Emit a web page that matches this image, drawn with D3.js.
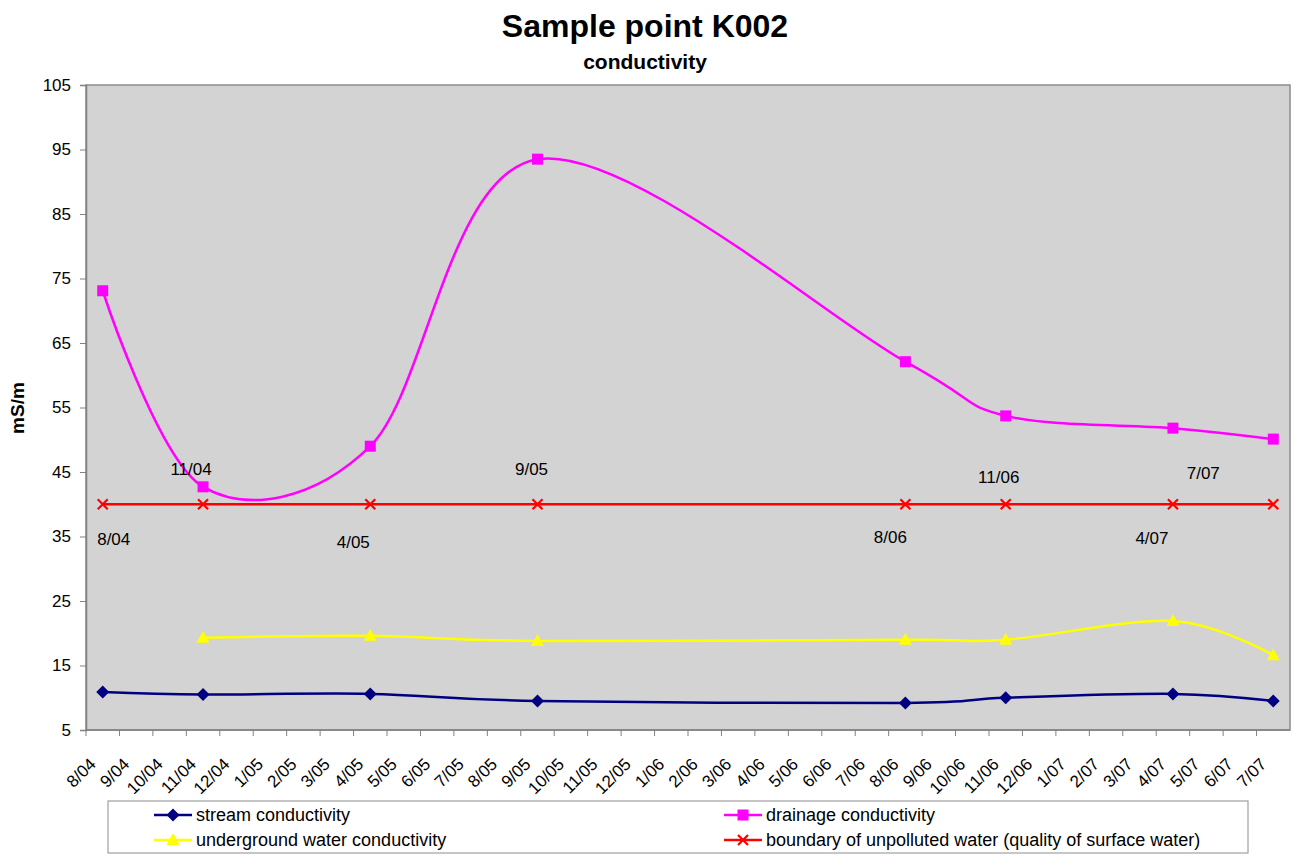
<!DOCTYPE html>
<html>
<head>
<meta charset="utf-8">
<script src="https://cdn.jsdelivr.net/npm/d3@7"></script>
<style>
  body { margin: 0; background: #fff; }
  text { font-family: Arial, "Liberation Sans", sans-serif; fill: #000; }
</style>
</head>
<body>
<div id="chart"></div>
<script>
// months on the category axis
var months = ["8/04","9/04","10/04","11/04","12/04","1/05","2/05","3/05","4/05","5/05","6/05","7/05",
  "8/05","9/05","10/05","11/05","12/05","1/06","2/06","3/06","4/06","5/06","6/06","7/06",
  "8/06","9/06","10/06","11/06","12/06","1/07","2/07","3/07","4/07","5/07","6/07","7/07"];

// sampling dates
var sampleDates = ["8/04","11/04","4/05","9/05","8/06","11/06","4/07","7/07"];

var streamValues      = [10.9, 10.5, 10.6, 9.5, 9.2, 10.0, 10.6, 9.5];
var drainageValues    = [73.1, 42.7, 49.0, 93.5, 62.1, 53.7, 51.8, 50.1];
var undergroundValues = [null, 19.3, 19.6, 18.8, 19.0, 19.0, 21.9, 16.6];
var boundaryValues    = [40, 40, 40, 40, 40, 40, 40, 40];

var yTicks = [5, 15, 25, 35, 45, 55, 65, 75, 85, 95, 105];

// hand placed data labels on the boundary line (pixel offsets)
var labelOffsets = [[11, 35], [-12, -35], [-17, 38], [-6, -35], [-15, 33], [-7, -27], [-21, 34], [-70, -31]];

var svgWidth = 1293;
var svgHeight = 855;

var margin = { top: 85, right: 3, bottom: 125, left: 86 };

var chartWidth = svgWidth - margin.left - margin.right;
var chartHeight = svgHeight - margin.top - margin.bottom;

var svg = d3.select("#chart")
  .append("svg")
  .attr("width", svgWidth)
  .attr("height", svgHeight);

var chartGroup = svg.append("g")
  .attr("transform", `translate(${margin.left}, ${margin.top})`);

var xScale = d3.scaleBand()
  .domain(months)
  .range([0, chartWidth]);

var yScale = d3.scaleLinear()
  .domain([5, 105])
  .range([chartHeight, 0]);

var xPos = d => xScale(d) + xScale.bandwidth() / 2;

// plot area
chartGroup.append("rect")
  .attr("width", chartWidth)
  .attr("height", chartHeight)
  .attr("fill", "#d3d3d3")
  .attr("stroke", "#8c8c8c")
  .attr("stroke-width", 1.5);

// y axis
var leftAxis = d3.axisLeft(yScale)
  .tickValues(yTicks)
  .tickSize(6)
  .tickPadding(9);

var yAxis = chartGroup.append("g").call(leftAxis);
yAxis.select(".domain").attr("stroke", "#808080").attr("stroke-width", 1.5);
yAxis.selectAll(".tick line").attr("stroke", "#808080");
yAxis.selectAll(".tick text")
  .style("font-size", "17px")
  .style("font-family", "Arial, 'Liberation Sans', sans-serif");

// x axis: ticks on category boundaries
var xAxis = chartGroup.append("g")
  .attr("transform", `translate(0, ${chartHeight})`);

xAxis.append("line")
  .attr("x1", 0).attr("x2", chartWidth)
  .attr("stroke", "#808080").attr("stroke-width", 1.5);

xAxis.selectAll("line.tick")
  .data(months)
  .enter()
  .append("line")
  .attr("class", "tick")
  .attr("x1", d => xScale(d)).attr("x2", d => xScale(d))
  .attr("y1", 0).attr("y2", 6)
  .attr("stroke", "#808080");

xAxis.selectAll("text")
  .data(months)
  .enter()
  .append("text")
  .attr("transform", d => `translate(${xPos(d) - 10}, 31) rotate(-45)`)
  .attr("text-anchor", "end")
  .attr("dy", "0.35em")
  .style("font-size", "17px")
  .text(d => d);

// series
var series = [
  { name: "stream conductivity", values: streamValues, color: "#000080", marker: "diamond" },
  { name: "drainage conductivity", values: drainageValues, color: "#ff00ff", marker: "square" },
  { name: "underground water conductivity", values: undergroundValues, color: "#ffff00", marker: "triangle" },
  { name: "boundary of unpolluted water (quality of surface water)", values: boundaryValues, color: "#ff0000", marker: "cross" }
];

var createLine = d3.line()
  .defined(d => d.v !== null)
  .x(d => xPos(d.date))
  .y(d => yScale(d.v))
  .curve(d3.curveCardinal.tension(0));

function drawMarker(g, type, color) {
  if (type === "diamond") {
    g.append("path").attr("d", "M0,-6.5L6.5,0L0,6.5L-6.5,0Z").attr("fill", color);
  } else if (type === "square") {
    g.append("rect").attr("x", -5.5).attr("y", -5.5).attr("width", 11).attr("height", 11).attr("fill", color);
  } else if (type === "triangle") {
    g.append("path").attr("d", "M0,-7L6.5,5L-6.5,5Z").attr("fill", color);
  } else {
    g.append("path").attr("d", "M-5,-5L5,5M-5,5L5,-5")
      .attr("stroke", color).attr("stroke-width", 2.2).attr("fill", "none");
  }
}

series.forEach(function(s) {
  var pts = sampleDates.map((d, i) => ({ date: d, v: s.values[i] })).filter(p => p.v !== null);

  chartGroup.append("path")
    .attr("d", createLine(pts))
    .attr("fill", "none")
    .attr("stroke", s.color)
    .attr("stroke-width", 2.5);

  pts.forEach(function(p) {
    var g = chartGroup.append("g")
      .attr("transform", `translate(${xPos(p.date)}, ${yScale(p.v)})`);
    drawMarker(g, s.marker, s.color);
  });
});

// data labels on boundary series
chartGroup.selectAll("text.dlabel")
  .data(sampleDates)
  .enter()
  .append("text")
  .attr("class", "dlabel")
  .attr("x", (d, i) => xPos(d) + labelOffsets[i][0])
  .attr("y", (d, i) => yScale(boundaryValues[i]) + labelOffsets[i][1])
  .attr("dy", "0.35em")
  .attr("text-anchor", "middle")
  .style("font-size", "17px")
  .text(d => d);

// titles
svg.append("text")
  .attr("x", 645).attr("y", 37)
  .attr("text-anchor", "middle")
  .style("font-size", "32px").style("font-weight", "bold")
  .text("Sample point K002");

svg.append("text")
  .attr("x", 645).attr("y", 69)
  .attr("text-anchor", "middle")
  .style("font-size", "21px").style("font-weight", "bold")
  .text("conductivity");

svg.append("text")
  .attr("transform", "translate(24, 408) rotate(-90)")
  .attr("text-anchor", "middle")
  .style("font-size", "19px").style("font-weight", "bold")
  .text("mS/m");

// legend
var legend = svg.append("g");
legend.append("rect")
  .attr("x", 108).attr("y", 801)
  .attr("width", 1140).attr("height", 52)
  .attr("fill", "#fff")
  .attr("stroke", "#a0a0a0")
  .attr("stroke-width", 1.2);

var legendPos = [[154, 815], [724, 815], [154, 840], [724, 840]];

series.forEach(function(s, k) {
  var lx = legendPos[k][0], ly = legendPos[k][1];
  legend.append("line")
    .attr("x1", lx).attr("x2", lx + 38)
    .attr("y1", ly).attr("y2", ly)
    .attr("stroke", s.color).attr("stroke-width", 2.5);
  var g = legend.append("g").attr("transform", `translate(${lx + 19}, ${ly})`);
  drawMarker(g, s.marker, s.color);
  legend.append("text")
    .attr("x", lx + 42).attr("y", ly)
    .attr("dy", "0.35em")
    .style("font-size", "18px")
    .text(s.name);
});
</script>
</body>
</html>
